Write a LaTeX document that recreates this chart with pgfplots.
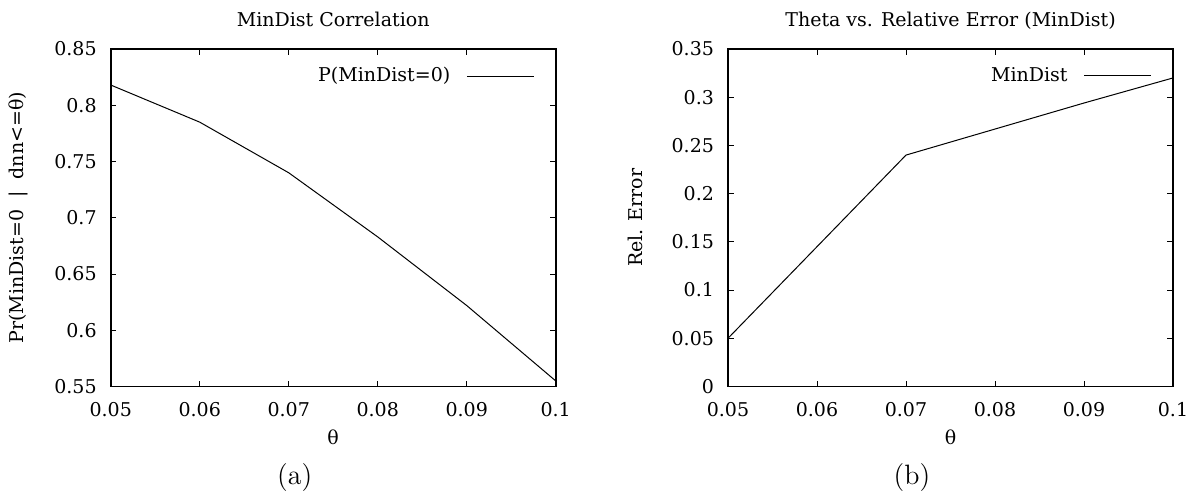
\documentclass[border=0pt]{standalone}
\usepackage{fontspec}
\usepackage{pgfplots}
\pgfplotsset{compat=1.18}
\newfontfamily\plotfont{DejaVu Serif}
\newcommand\pf{\plotfont\fontsize{9.5}{11}\selectfont}

\pgfplotsset{
  gp/.style={
    scale only axis, width=222.5pt, height=168.75pt,
    xmin=0.05, xmax=0.1,
    xtick={0.05,0.06,0.07,0.08,0.09,0.1},
    xticklabels={0.05,0.06,0.07,0.08,0.09,0.1},
    tick align=inside, tick pos=both, major tick length=2.8pt,
    axis line style={line width=0.9pt},
    every tick/.style={black, line width=0.5pt},
    ticklabel style={font=\pf},
    yticklabel style={xshift=-3.5pt},
    xticklabel style={yshift=-4.5pt},
    label style={font=\pf},
    title style={font=\pf, at={(axis description cs:0.5,1)}, anchor=base, yshift=5.2pt},
    xlabel style={at={(axis description cs:0.5,0)}, anchor=center, yshift=-25.5pt},
    ylabel style={at={(axis description cs:-0.2083,0.5)}, anchor=center},
    legend style={draw=none, fill=none, font=\pf, at={(axis description cs:1,1)},
      anchor=north east, xshift=-7.5pt, yshift=-5pt},
    legend plot pos=right,
    legend cell align=right,
    legend image code/.code={\path (0pt,0pt); \draw[#1] (6pt,0pt) -- (39.5pt,0pt);},
  }
}

\begin{document}
\begin{tikzpicture}
\useasboundingbox (0,0) rectangle (600pt,247.5pt);

% (a) MinDist correlation
\begin{axis}[gp, at={(55.35pt,54.25pt)}, anchor=south west,
  ymin=0.55, ymax=0.85,
  ytick={0.55,0.6,0.65,0.7,0.75,0.8,0.85},
  yticklabels={0.55,0.6,0.65,0.7,0.75,0.8,0.85},
  title={MinDist Correlation},
  xlabel={θ},
  ylabel={Pr(MinDist=0\ \ |\ \ dnn<=θ)}]
\addplot[black, line width=0.5pt] coordinates {
  (0.05,0.818) (0.06,0.785) (0.07,0.740) (0.08,0.683) (0.09,0.622) (0.1,0.555)
};
\addlegendentry{P(MinDist=0)}
\end{axis}

% (b) theta vs relative error
\begin{axis}[gp, at={(364pt,54.25pt)}, anchor=south west,
  ymin=0, ymax=0.35,
  ytick={0,0.05,0.1,0.15,0.2,0.25,0.3,0.35},
  yticklabels={0,0.05,0.1,0.15,0.2,0.25,0.3,0.35},
  title={Theta vs. Relative Error (MinDist)},
  xlabel={θ},
  ylabel={Rel. Error}]
\addplot[black, line width=0.5pt] coordinates {
  (0.05,0.050) (0.06,0.145) (0.07,0.240) (0.08,0.267) (0.09,0.294) (0.1,0.320)
};
\addlegendentry{MinDist}
\end{axis}

\node[font=\fontsize{14}{16}\selectfont] at (147.35pt,8.5pt) {(a)};
\node[font=\fontsize{14}{16}\selectfont] at (456pt,8.5pt) {(b)};
\end{tikzpicture}
\end{document}
